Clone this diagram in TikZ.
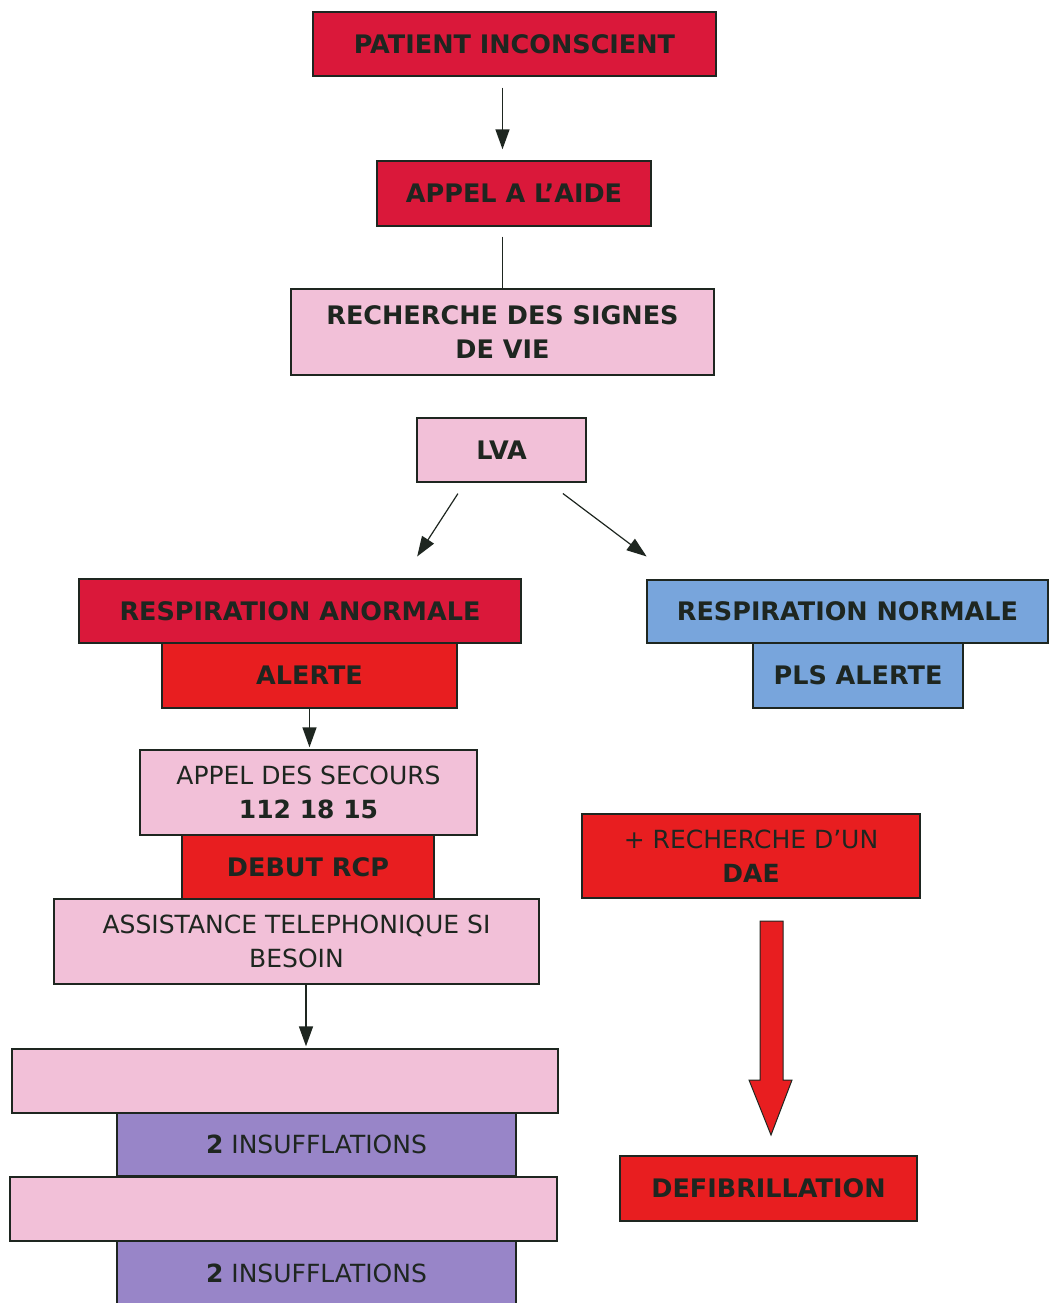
\documentclass[tikz,border=0pt]{standalone}
\usepackage{fontspec}
\setmainfont{DejaVu Sans}
\usetikzlibrary{arrows.meta}

\definecolor{cramoisi}{RGB}{218,24,58}
\definecolor{rouge}{RGB}{232,30,32}
\definecolor{rose}{RGB}{242,192,216}
\definecolor{bleu}{RGB}{120,165,220}
\definecolor{violet}{RGB}{152,133,200}
\definecolor{encre}{RGB}{30,38,32}

\begin{document}
\begin{tikzpicture}[x=1pt, y=-1pt,
boite/.style = {draw=encre, line width=1.4pt, inner sep=0pt, align=center,
  text=encre, font=\fontsize{25}{34}\selectfont},
gras/.style = {font=\fontsize{25.5}{34}\selectfont\bfseries},
fleche/.style = {draw=encre, line width=1.5pt, -{Triangle[width=14pt,length=20pt]}},
trait/.style = {draw=encre, line width=1.5pt}
]
\useasboundingbox (0,0) rectangle (1053,1303);

% colonne de gauche
\node[boite, gras, fill=cramoisi, minimum width=403, minimum height=64] (patient) at (514.5,44) {PATIENT INCONSCIENT};
\node[boite, gras, fill=cramoisi, minimum width=274, minimum height=65] (aide) at (514,193.5) {APPEL A L’AIDE};
\node[boite, gras, fill=rose, minimum width=423, minimum height=86] (signes) at (502.5,332) {RECHERCHE DES SIGNES\\DE VIE};
\node[boite, gras, fill=rose, minimum width=169, minimum height=64] (lva) at (501.5,450) {LVA};

\node[boite, gras, fill=cramoisi, minimum width=442, minimum height=64] (anormale) at (300,611) {RESPIRATION ANORMALE};
\node[boite, gras, fill=rouge, minimum width=295, minimum height=65] (alerte) at (309.5,675.5) {ALERTE};
\node[boite, fill=rose, minimum width=337, minimum height=85] (secours) at (308.5,792.5) {APPEL DES SECOURS\\\textbf{112 18 15}};
\node[boite, gras, fill=rouge, minimum width=252, minimum height=64] (rcp) at (308,867) {DEBUT RCP};
\node[boite, fill=rose, minimum width=485, minimum height=85] (assistance) at (296.5,941.5) {ASSISTANCE TELEPHONIQUE SI\\BESOIN};

\node[boite, fill=rose, minimum width=546, minimum height=64] (bande1) at (285,1081) {};
\node[boite, fill=violet, minimum width=399, minimum height=63] (insuf1) at (316.5,1144.5) {\textbf{2} INSUFFLATIONS};
\node[boite, fill=rose, minimum width=547, minimum height=64] (bande2) at (283.5,1209) {};
\node[boite, fill=violet, minimum width=399, minimum height=64] (insuf2) at (316.5,1273) {\textbf{2} INSUFFLATIONS};

% colonne de droite
\node[boite, gras, fill=bleu, minimum width=401, minimum height=63] (normale) at (847.5,611.5) {RESPIRATION NORMALE};
\node[boite, gras, fill=bleu, minimum width=210, minimum height=65] (pls) at (858,675.5) {PLS ALERTE};
\node[boite, fill=rouge, minimum width=338, minimum height=84] (dae) at (751,856) {+ RECHERCHE D’UN\\\textbf{DAE}};
\node[boite, gras, fill=rouge, minimum width=297, minimum height=65] (defib) at (768.5,1188.5) {DEFIBRILLATION};

% liaisons
\draw[fleche, shorten <=11pt, shorten >=11pt] (patient.south -| signes.north) -- (aide.north -| signes.north);
\draw[trait, shorten <=10pt] (aide.south -| signes.north) -- (signes.north);
\draw[fleche, line width=1.2pt, shorten <=13pt, shorten >=26pt] ([xshift=-36.5]lva.south) -- ([xshift=103]anormale.north);
\draw[fleche, line width=1.2pt, shorten <=18pt, shorten >=38pt] ([xshift=47]lva.south) -- ([xshift=-170.5]normale.north);
\draw[fleche, shorten >=2pt] (alerte.south) -- (alerte.south |- secours.north);
\draw[fleche, shorten >=2pt] ([xshift=9.5]assistance.south) -- ([xshift=9.5]assistance.south |- bande1.north);

% grosse fleche rouge
\draw[draw=encre, line width=1pt, fill=rouge] (760,921) -- (783,921) -- (783,1080) -- (792,1080)
  -- (771,1135) -- (749,1080) -- (760,1080) -- cycle;
\end{tikzpicture}
\end{document}
